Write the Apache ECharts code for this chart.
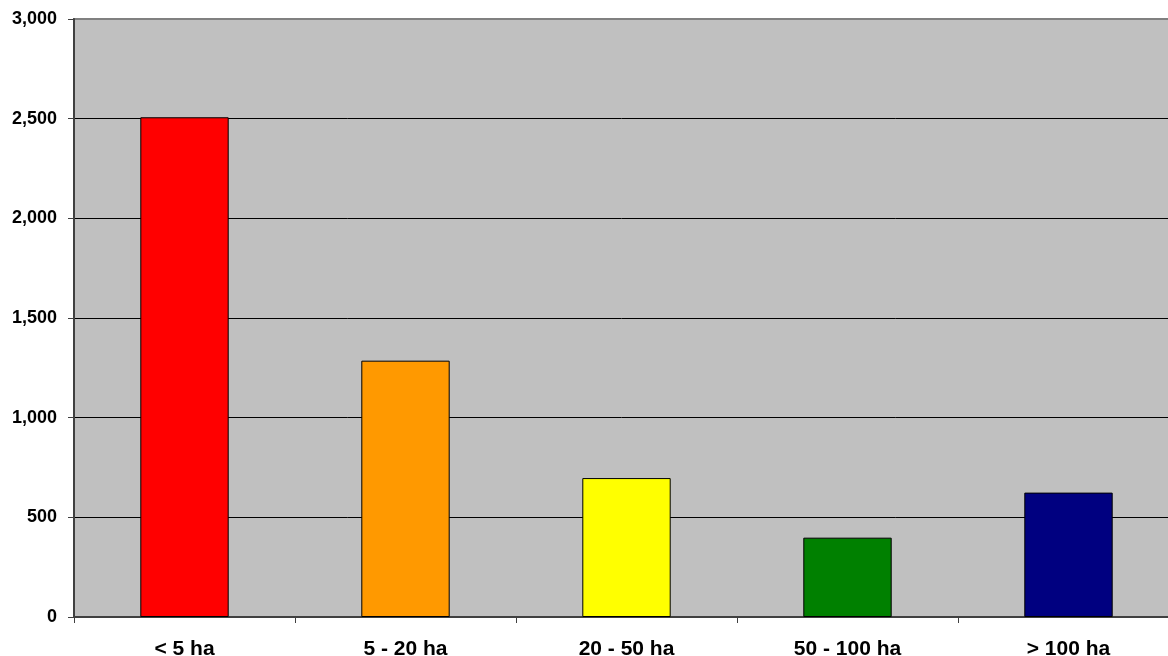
<!DOCTYPE html>
<html>
<head>
<meta charset="utf-8">
<script src="https://cdn.jsdelivr.net/npm/echarts@6/dist/echarts.min.js"></script>
<style>
  html, body { margin: 0; padding: 0; background: #ffffff; }
  #chart { width: 1168px; height: 656px; }
</style>
</head>
<body>
<div id="chart"></div>
<script>
// Farm size classes and the number of holdings in each
const categories = ['< 5 ha', '5 - 20 ha', '20 - 50 ha', '50 - 100 ha', '> 100 ha'];
const holdings = [2507, 1286, 697, 398, 624];
const barColors = ['#FF0000', '#FF9900', '#FFFF00', '#008000', '#000080'];

const yMin = 0;
const yMax = 3000;
const yStep = 500;

const chart = echarts.init(document.getElementById('chart'), null, { renderer: 'canvas' });

chart.setOption({
  animation: false,
  backgroundColor: '#ffffff',
  grid: {
    left: 74,
    top: 19,
    width: 1105,
    bottom: 39,
    outerBoundsMode: 'none',
    containLabel: false,
    show: true,
    backgroundColor: '#C0C0C0',
    borderColor: '#808080',
    borderWidth: 2
  },
  xAxis: {
    type: 'category',
    data: categories,
    boundaryGap: true,
    axisLine: { show: true, lineStyle: { color: '#404040', width: 2 } },
    axisTick: { show: true, length: 6, alignWithLabel: false, lineStyle: { color: '#404040', width: 1 } },
    axisLabel: {
      margin: 22,
      color: '#000000',
      fontFamily: 'Liberation Sans, Arial, sans-serif',
      fontWeight: 'bold',
      fontSize: 21
    },
    splitLine: { show: false }
  },
  yAxis: {
    type: 'value',
    min: yMin,
    max: yMax,
    interval: yStep,
    axisLine: { show: true, lineStyle: { color: '#404040', width: 2 } },
    axisTick: { show: true, length: 6, lineStyle: { color: '#404040', width: 1 } },
    axisLabel: {
      margin: 17,
      color: '#000000',
      fontFamily: 'Liberation Sans, Arial, sans-serif',
      fontWeight: 'bold',
      fontSize: 18,
      formatter: v => v.toLocaleString('en-US')
    },
    splitLine: {
      show: true,
      showMaxLine: false,
      showMinLine: false,
      lineStyle: { color: '#000000', width: 1 }
    }
  },
  series: [{
    type: 'bar',
    data: holdings.map((v, i) => ({
      value: v,
      itemStyle: { color: barColors[i] }
    })),
    barWidth: '40%',
    itemStyle: { borderColor: '#000000', borderWidth: 1 }
  }]
});
</script>
</body>
</html>
